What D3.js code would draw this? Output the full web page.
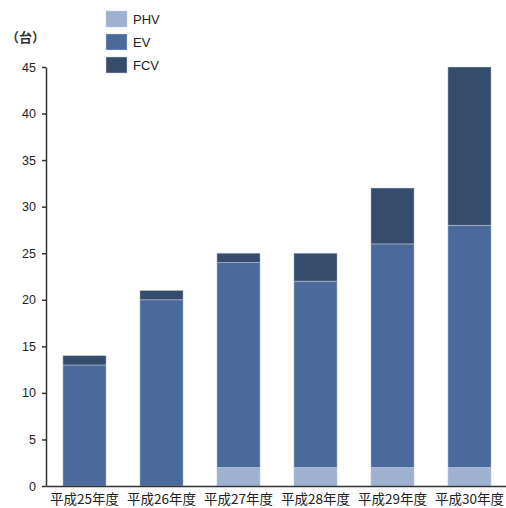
<!doctype html>
<html lang="ja">
<head>
<meta charset="utf-8">
<title>台数</title>
<style>
  body { margin: 0; background: #fff; }
  svg { display: block; font-family: "Liberation Sans", Arial, "Noto Sans CJK JP", sans-serif; }
</style>
</head>
<body>
<div id="aqui"></div>
<script src="https://d3js.org/d3.v7.min.js"></script>
<script>
// datos
var years = ["平成25年度", "平成26年度", "平成27年度", "平成28年度", "平成29年度", "平成30年度"];
var phv = [0, 0, 2, 2, 2, 2];
var ev = [13, 20, 22, 20, 24, 26];
var fcv = [1, 1, 1, 3, 6, 17];
var series = ["PHV", "EV", "FCV"];
var colores = ["#9fb1d1", "#4a6a9b", "#364c6d"];
var yTicks = [0, 5, 10, 15, 20, 25, 30, 35, 40, 45];

var w = 506, h = 508;
var svg = d3.select("#aqui").append("svg").attr("width", w).attr("height", h);

var rows = years.map(function(y, i) {
  return { year: y, PHV: phv[i], EV: ev[i], FCV: fcv[i] };
});
var stack = d3.stack().keys(series)(rows);

var x = d3.scaleBand().domain(years).range([46, 508]).paddingInner(0.44).paddingOuter(0.22);
var y = d3.scaleLinear().domain([0, 45]).range([486, 67]);
var color = d3.scaleOrdinal().domain(series).range(colores);

// barras
svg.selectAll("g.capa")
  .data(stack)
  .enter()
  .append("g")
  .attr("class", "capa")
  .attr("fill", function(d) { return color(d.key); })
  .selectAll("rect")
  .data(function(d) { return d; })
  .enter()
  .append("rect")
  .attr("x", function(d) { return x(d.data.year); })
  .attr("y", function(d) { return y(d[1]); })
  .attr("width", x.bandwidth())
  .attr("height", function(d) { return y(d[0]) - y(d[1]); })
  .attr("stroke", "#c4cfe0")
  .attr("stroke-opacity", 0.6)
  .attr("stroke-width", function(d) { return d[1] > d[0] ? 0.8 : 0; });

// eje y
var yAxis = svg.append("g")
  .attr("transform", "translate(46,0)")
  .call(d3.axisLeft(y).tickValues(yTicks).tickSize(4).tickPadding(6).tickSizeOuter(0));
yAxis.select(".domain").attr("stroke", "#333").attr("stroke-width", 1.5);
yAxis.selectAll(".tick line").attr("stroke", "#333").attr("stroke-width", 1.5);
yAxis.selectAll("text").attr("fill", "#222").style("font-size", "12.5px");

// eje x
var xAxis = svg.append("g")
  .attr("transform", "translate(0,486)")
  .call(d3.axisBottom(x).tickSize(0).tickPadding(8));
xAxis.select(".domain").attr("stroke", "#333").attr("stroke-width", 1.5);
xAxis.selectAll("text").attr("fill", "#222").style("font-size", "13.5px")
  .style("font-family", "'Noto Sans CJK JP', sans-serif");

// unidad
svg.append("text")
  .attr("x", 6).attr("y", 42)
  .attr("fill", "#333")
  .style("font-size", "13px")
  .style("font-weight", "bold")
  .style("font-family", "'Noto Sans CJK JP', sans-serif")
  .text("（台）");

// leyenda
var ley = svg.selectAll("g.ley")
  .data(series)
  .enter()
  .append("g")
  .attr("class", "ley")
  .attr("transform", function(d, i) { return "translate(106," + (11 + i * 23) + ")"; });
ley.append("rect")
  .attr("width", 21).attr("height", 16)
  .attr("fill", function(d) { return color(d); })
  .attr("stroke", "#c4cfe0").attr("stroke-opacity", 0.6).attr("stroke-width", 0.8);
ley.append("text")
  .attr("x", 27).attr("y", 13)
  .attr("fill", "#222")
  .style("font-size", "13px")
  .text(function(d) { return d; });
</script>
</body>
</html>
